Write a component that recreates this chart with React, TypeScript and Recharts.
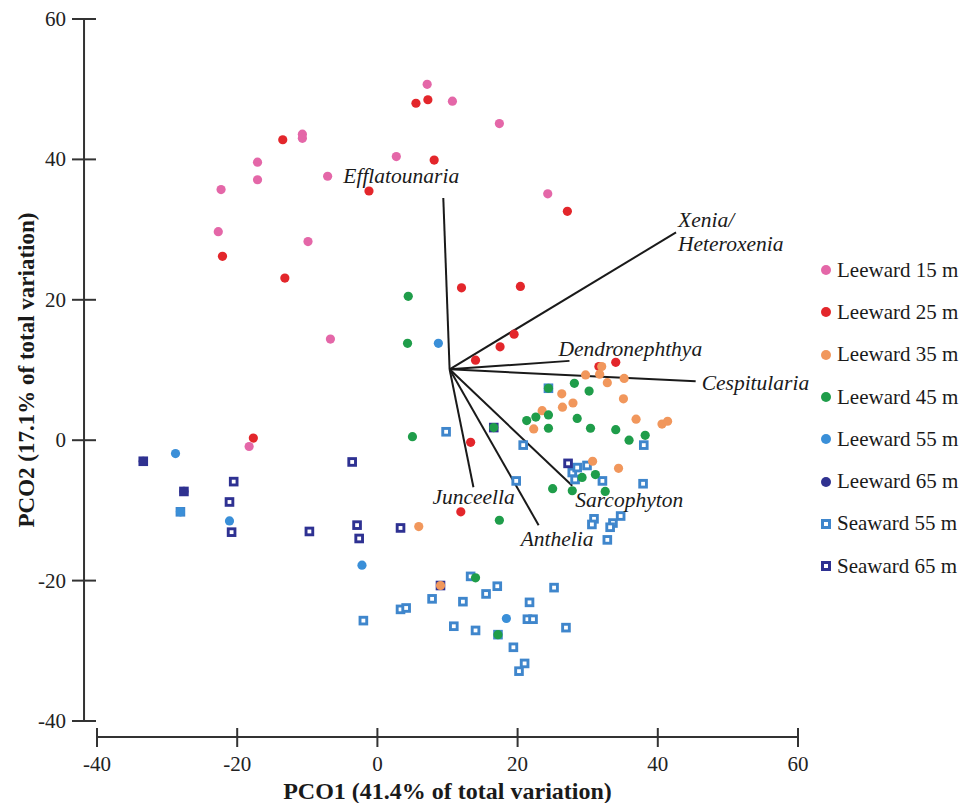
import { ScatterChart, Scatter, XAxis, YAxis, ReferenceLine, Legend, Label } from 'recharts';

type Pt = [number, number];

// PCO scores
const leeward15: Pt[] = [
  [7.1, 50.7], [10.7, 48.3], [17.4, 45.1], [-10.7, 43.6], [-10.7, 43.0], [-17.1, 39.6],
  [-17.1, 37.1], [-22.3, 35.7], [-7.1, 37.6], [2.7, 40.4], [-22.7, 29.7], [-9.9, 28.3],
  [24.3, 35.1], [-6.7, 14.4], [-18.3, -0.9],
];
const leeward25: Pt[] = [
  [5.5, 48.0], [7.2, 48.5], [-13.5, 42.8], [8.1, 39.9], [-1.2, 35.5], [27.1, 32.6],
  [-22.1, 26.2], [-13.2, 23.1], [12.0, 21.7], [20.4, 21.9], [19.5, 15.1], [17.5, 13.3],
  [14.0, 11.4], [34.0, 11.1], [31.6, 10.5], [13.3, -0.3], [11.9, -10.2], [-17.7, 0.3],
];
const leeward35: Pt[] = [
  [32.0, 10.5], [29.7, 9.3], [31.7, 9.4], [32.8, 8.2], [35.2, 8.8], [26.3, 6.6],
  [35.1, 5.9], [26.4, 4.7], [27.9, 5.3], [23.5, 4.2], [22.3, 1.6], [36.9, 3.0],
  [40.6, 2.3], [41.4, 2.7], [30.7, -3.0], [34.4, -4.0], [5.9, -12.3], [9.0, -20.7],
];
const leeward45: Pt[] = [
  [4.4, 20.5], [4.3, 13.8], [5.0, 0.5], [28.1, 8.1], [30.2, 7.0], [24.4, 7.4],
  [21.3, 2.8], [22.6, 3.3], [24.4, 3.6], [28.5, 3.1], [24.4, 1.7], [30.4, 1.7],
  [34.0, 1.5], [35.9, 0.0], [38.2, 0.7], [16.6, 1.8], [29.2, -5.3], [31.1, -4.9],
  [25.0, -6.9], [27.8, -7.2], [32.5, -7.3], [17.4, -11.4], [14.0, -19.6], [17.2, -27.7],
];
const leeward55: Pt[] = [
  [8.7, 13.8], [-28.8, -1.9], [-28.1, -10.2], [-21.1, -11.5], [-2.2, -17.8], [18.4, -25.4],
];
const leeward65: Pt[] = [[-33.4, -3.0], [-27.6, -7.3]];
const seaward55: Pt[] = [
  [9.8, 1.2], [24.4, 7.4], [20.8, -0.7], [19.8, -5.8], [38.0, -0.7], [27.8, -4.6],
  [28.5, -3.9], [29.9, -3.6], [28.2, -5.6], [32.1, -5.8], [37.9, -6.2], [30.9, -11.2],
  [30.6, -12.0], [34.7, -10.8], [33.6, -11.8], [33.2, -12.4], [32.8, -14.2], [13.3, -19.4],
  [17.1, -20.8], [15.5, -21.9], [7.8, -22.6], [12.2, -23.0], [25.2, -21.0], [21.7, -23.1],
  [21.4, -25.5], [22.2, -25.5], [3.3, -24.1], [4.1, -23.9], [-2.0, -25.7], [10.9, -26.5],
  [14.0, -27.1], [17.2, -27.7], [26.9, -26.7], [19.4, -29.5], [21.0, -31.8], [20.2, -32.9],
  [-28.1, -10.2],
];
const seaward65: Pt[] = [
  [-33.4, -3.0], [-27.6, -7.3], [-20.5, -5.9], [-21.1, -8.8], [-20.8, -13.1], [-3.6, -3.1],
  [-9.7, -13.0], [-2.9, -12.1], [-2.6, -14.0], [3.3, -12.5], [27.2, -3.3], [9.0, -20.7],
  [16.6, 1.8],
];

// species vectors
const vectorOrigin: Pt = [10.3, 10.1];
const vectorNames = ['Efflatounaria', 'Xenia/Heteroxenia', 'Dendronephthya', 'Cespitularia', 'Junceella', 'Anthelia', 'Sarcophyton'];
const vectorEnds: Pt[] = [[9.4, 34.5], [42.6, 29.6], [27.4, 11.3], [45.4, 8.4], [13.7, -6.7], [23.0, -12.1], [27.8, -6.5]];

const xTicks = [-40, -20, 0, 20, 40, 60];
const yTicks = [-40, -20, 0, 20, 40, 60];

const SERIF = '"Liberation Serif", "Times New Roman", serif';
const AXIS = '#333';

// label nudges in px from the vector tip
const labelNudge: Record<string, [number, number]> = {
  Efflatounaria: [-100, -15],
  'Xenia/Heteroxenia': [2, -5],
  Dendronephthya: [-11, -5],
  Cespitularia: [6, 9],
  Junceella: [-41, 17],
  Anthelia: [-18, 21],
  Sarcophyton: [3, 21],
};

const series = [
  { name: 'Leeward 15 m', color: '#e467a8', kind: 'circle', data: leeward15 },
  { name: 'Leeward 25 m', color: '#e3262b', kind: 'circle', data: leeward25 },
  { name: 'Leeward 35 m', color: '#f1975c', kind: 'circle', data: leeward35 },
  { name: 'Leeward 45 m', color: '#1f9d4a', kind: 'circle', data: leeward45 },
  { name: 'Leeward 55 m', color: '#3a8fd8', kind: 'circle', data: leeward55 },
  { name: 'Leeward 65 m', color: '#2f3190', kind: 'circle', data: leeward65 },
  { name: 'Seaward 55 m', color: '#3f86cc', kind: 'square', data: seaward55 },
  { name: 'Seaward 65 m', color: '#2e3192', kind: 'square', data: seaward65 },
];

const toRows = (pts: Pt[]) => pts.map(([x, y]) => ({ x, y }));

const dotShape = (color: string) => (p: any) => <circle cx={p.cx} cy={p.cy} r={4.6} fill={color} />;
const boxShape = (color: string) => (p: any) => (
  <g>
    <rect x={p.cx - 4.8} y={p.cy - 4.8} width={9.6} height={9.6} fill={color} />
    <rect x={p.cx - 1.9} y={p.cy - 1.9} width={3.8} height={3.8} fill="#fff" />
  </g>
);

const YTick = (p: any) => (
  <g>
    <line x1={p.x - 25} x2={p.x - 1} y1={p.y} y2={p.y} stroke={AXIS} strokeWidth={2} />
    <text x={p.x - 31} y={p.y + 7} textAnchor="end" fontSize={21} fontFamily={SERIF} fill="#222">
      {p.payload.value}
    </text>
  </g>
);

const XTick = (p: any) => (
  <g>
    <line x1={p.x} x2={p.x} y1={p.y + 7} y2={p.y + 26} stroke={AXIS} strokeWidth={2} />
    <text x={p.x} y={p.y + 50} textAnchor="middle" fontSize={21} fontFamily={SERIF} fill="#222">
      {p.payload.value}
    </text>
  </g>
);

const VectorLabel = (p: any) => {
  const name: string = p.payload.name;
  const [dx, dy] = labelNudge[name];
  const lines = name === 'Xenia/Heteroxenia' ? ['Xenia/', 'Heteroxenia'] : [name];
  return (
    <text x={p.cx + dx} y={p.cy + dy} fontSize={21.5} fontStyle="italic" fontFamily={SERIF} fill="#1a1a1a">
      {lines.map((l, i) => (
        <tspan key={l} x={p.cx + dx} dy={i === 0 ? 0 : 24}>{l}</tspan>
      ))}
    </text>
  );
};

const LegendBox = () => (
  <div style={{ fontFamily: SERIF, fontSize: 21, color: '#1a1a1a' }}>
    {series.map((s) => (
      <div key={s.name} style={{ height: 42.3, display: 'flex', alignItems: 'center', whiteSpace: 'nowrap' }}>
        <svg width={16} height={16} style={{ marginRight: 3 }}>
          {s.kind === 'circle' ? (
            <circle cx={8} cy={8} r={5} fill={s.color} />
          ) : (
            <g>
              <rect x={3} y={3} width={10} height={10} fill={s.color} />
              <rect x={6} y={6} width={4} height={4} fill="#fff" />
            </g>
          )}
        </svg>
        <span>{s.name}</span>
      </div>
    ))}
  </div>
);

export default function App() {
  const vectorRows = vectorNames.map((name, i) => ({ name, x: vectorEnds[i][0], y: vectorEnds[i][1] }));
  // squares underneath, circles on top
  const drawOrder = [...series.filter((s) => s.kind === 'square'), ...series.filter((s) => s.kind === 'circle')];

  return (
    <div style={{ position: 'absolute', left: 0, top: 0, background: '#fff' }}>
      <ScatterChart width={962} height={803} margin={{ top: 19, right: 164, bottom: 22, left: 37 }}>
        <XAxis
          type="number"
          dataKey="x"
          domain={[-40, 60]}
          ticks={xTicks}
          interval={0}
          height={60}
          axisLine={false}
          tickLine={false}
          tickSize={0}
          tickMargin={0}
          tick={<XTick />}
        >
          <Label
            content={(p: any) => (
              <text
                x={p.viewBox.x + p.viewBox.width / 2}
                y={p.viewBox.y + 78}
                textAnchor="middle"
                fontSize={24}
                fontWeight="bold"
                fontFamily={SERIF}
                fill="#1a1a1a"
              >
                PCO1 (41.4% of total variation)
              </text>
            )}
          />
        </XAxis>
        <YAxis
          type="number"
          dataKey="y"
          domain={[-40, 60]}
          ticks={yTicks}
          interval={0}
          width={60}
          axisLine={false}
          tickLine={false}
          tickSize={0}
          tickMargin={0}
          tick={<YTick />}
        >
          <Label
            content={(p: any) => {
              const cx = p.viewBox.x + p.viewBox.width - 63;
              const cy = p.viewBox.y + p.viewBox.height / 2;
              return (
                <text
                  x={cx}
                  y={cy}
                  transform={`rotate(-90, ${cx}, ${cy})`}
                  textAnchor="middle"
                  fontSize={23}
                  fontWeight="bold"
                  fontFamily={SERIF}
                  fill="#1a1a1a"
                >
                  PCO2 (17.1% of total variation)
                </text>
              );
            }}
          />
        </YAxis>

        {/* detached axis lines */}
        <ReferenceLine
          segment={[{ x: -41.85, y: -40 }, { x: -41.85, y: 60 }]}
          stroke={AXIS}
          strokeWidth={2}
          ifOverflow="visible"
        />
        <ReferenceLine
          segment={[{ x: -40, y: -42.28 }, { x: 60, y: -42.28 }]}
          stroke={AXIS}
          strokeWidth={2}
          ifOverflow="visible"
        />

        {drawOrder.map((s) => (
          <Scatter
            key={s.name}
            name={s.name}
            data={toRows(s.data)}
            fill={s.color}
            shape={s.kind === 'circle' ? dotShape(s.color) : boxShape(s.color)}
            isAnimationActive={false}
          />
        ))}

        {vectorEnds.map((e, i) => (
          <ReferenceLine
            key={vectorNames[i]}
            segment={[{ x: vectorOrigin[0], y: vectorOrigin[1] }, { x: e[0], y: e[1] }]}
            stroke="#1a1a1a"
            strokeWidth={2}
            ifOverflow="visible"
          />
        ))}
        <Scatter data={vectorRows} shape={<VectorLabel />} isAnimationActive={false} legendType="none" />

        <Legend
          layout="vertical"
          align="center"
          verticalAlign="middle"
          content={<LegendBox />}
          wrapperStyle={{ position: 'absolute', left: 818, top: 249, width: 144 }}
        />
      </ScatterChart>
    </div>
  );
}
